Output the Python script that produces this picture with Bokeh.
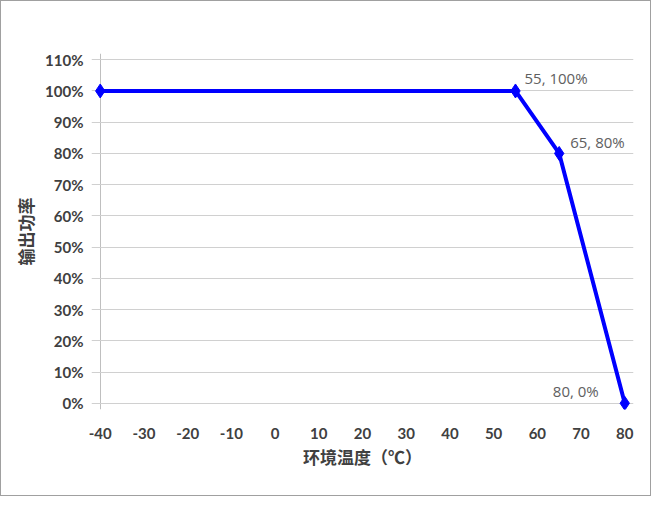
from bokeh.plotting import figure
from bokeh.models import Range1d, FixedTicker, ColumnDataSource
from bokeh.embed import file_html
from bokeh.resources import INLINE
from bokeh.core.properties import value

# Data
temps = [-40, 55, 65, 80]
power = [100, 100, 80, 0]
x_ticks = [-40, -30, -20, -10, 0, 10, 20, 30, 40, 50, 60, 70, 80]
x_tick_labels = [str(v) for v in x_ticks]
y_ticks = [0, 10, 20, 30, 40, 50, 60, 70, 80, 90, 100, 110]
y_tick_labels = [f"{v}%" for v in y_ticks]
x_title = "环境温度（℃）"
y_title = "输出功率"
label_idx = [1, 2, 3]

# small padding so edge markers are not clipped
pad_x = 2
pad_y = 2

p = figure(width=651, height=496, output_backend="svg", toolbar_location=None,
           x_range=Range1d(x_ticks[0] - pad_x, x_ticks[-1] + pad_x),
           y_range=Range1d(y_ticks[0] - pad_y, y_ticks[-1] + pad_y),
           min_border_left=90, min_border_right=19, min_border_top=52, min_border_bottom=88)
p.styles = {"border": "1px solid #a0a0a0"}
p.outline_line_color = None
p.background_fill_color = "white"
p.border_fill_color = "white"

# grid: horizontal lines, plus the value-axis line at the first category
p.ygrid.grid_line_color = "#d0d0d0"
p.ygrid.grid_line_width = 1
p.ygrid.ticker = FixedTicker(ticks=y_ticks)
p.ygrid.bounds = (x_ticks[0], x_ticks[-1])
p.xgrid.ticker = FixedTicker(ticks=[x_ticks[0]])
p.xgrid.grid_line_color = "#bfbfbf"
p.xgrid.bounds = (y_ticks[0], y_ticks[-1])

# axes
p.xaxis.ticker = FixedTicker(ticks=x_ticks)
p.yaxis.ticker = FixedTicker(ticks=y_ticks)
p.xaxis.major_label_overrides = {v: l for v, l in zip(x_ticks, x_tick_labels)}
p.yaxis.major_label_overrides = {v: l for v, l in zip(y_ticks, y_tick_labels)}
for ax in (p.xaxis[0], p.yaxis[0]):
    ax.axis_line_color = None
    ax.major_tick_out = 0
    ax.major_tick_in = 0
    ax.minor_tick_out = 0
    ax.minor_tick_in = 0
    ax.major_label_text_font = "Lato"
    ax.major_label_text_font_style = "bold"
    ax.major_label_text_font_size = "15px"
    ax.major_label_text_color = "#404040"
    ax.axis_label_text_font = "Noto Sans CJK SC"
    ax.axis_label_text_font_style = "bold"
    ax.axis_label_text_font_size = "17px"
    ax.axis_label_text_color = "#404040"
p.xaxis.major_label_standoff = 18
p.yaxis.major_label_standoff = 8
p.xaxis.axis_label = x_title
p.yaxis.axis_label = y_title
p.xaxis.axis_label_standoff = 2
p.yaxis.axis_label_standoff = 4

src = ColumnDataSource(dict(x=temps, y=power))
p.line("x", "y", source=src, line_color="#0000FF", line_width=4)
p.scatter("x", "y", source=src, marker="diamond", size=14, color="#0000FF")

# data labels
lab = ColumnDataSource(dict(
    x=[temps[i] for i in label_idx],
    y=[power[i] for i in label_idx],
    t=[f"{temps[i]}, {power[i]}%" for i in label_idx],
    dx=[9, 11, -26],
    dy=[-13, -11, -12],
    al=["left", "left", "right"],
))
p.text("x", "y", text="t", source=lab, x_offset="dx", y_offset="dy",
       text_align="al", text_baseline="middle",
       text_font=value("Open Sans"), text_font_size="15px", text_color="#606060")

open("out.html", "w").write(file_html(p, INLINE))
